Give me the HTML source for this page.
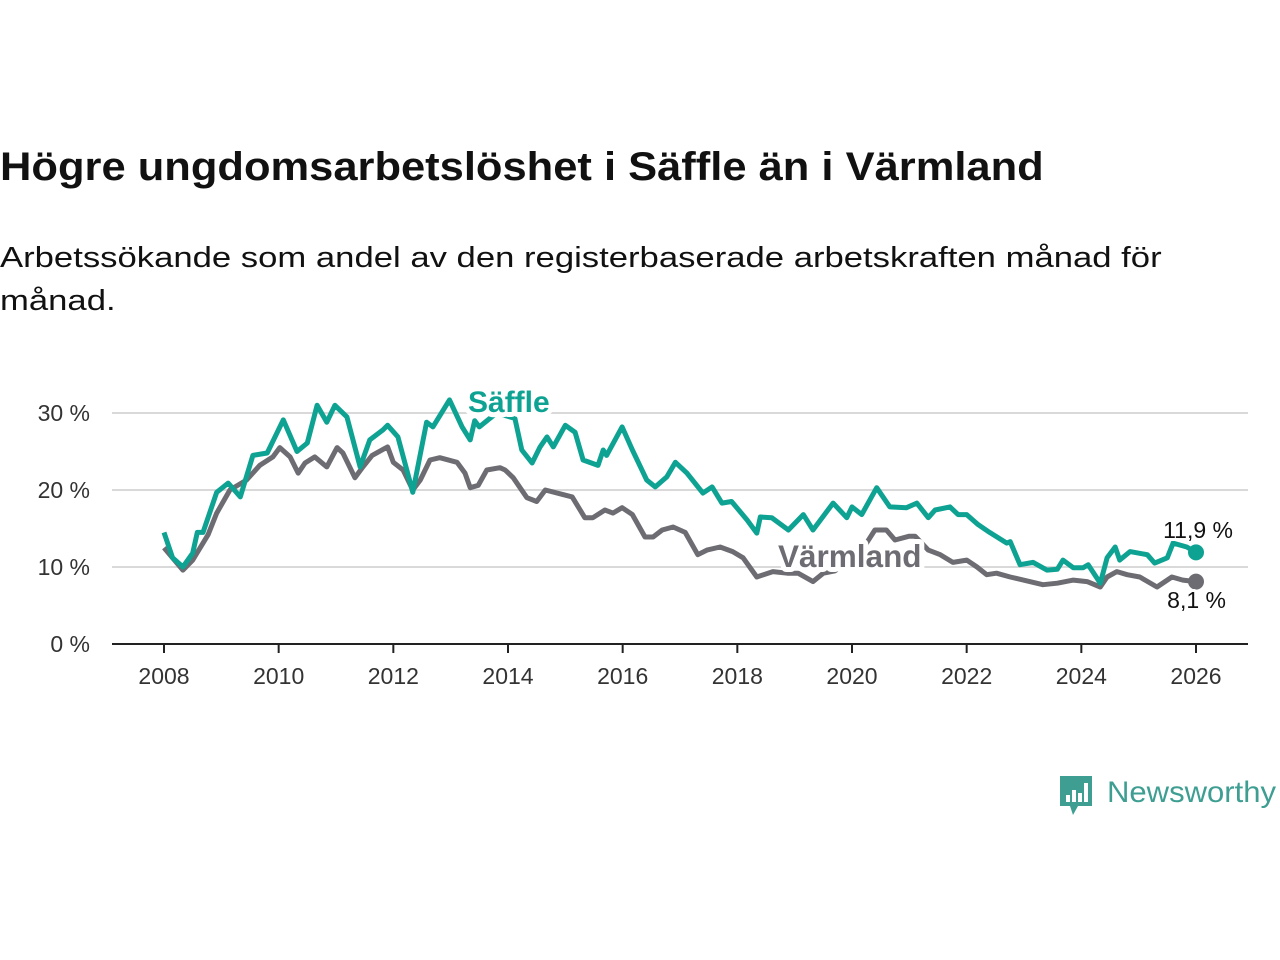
<!DOCTYPE html>
<html><head><meta charset="utf-8"><style>
body{margin:0;background:#fff;font-family:"Liberation Sans",sans-serif;}
#wrap{position:relative;width:1280px;height:960px;overflow:hidden;}
h1{position:absolute;left:0;top:145px;margin:0;font-size:40px;font-weight:bold;color:#111;white-space:nowrap;transform:scaleX(1.087);transform-origin:left top}
p.sub{position:absolute;left:0;top:237px;margin:0;font-size:29px;line-height:43px;color:#111;width:1000px;transform:scaleX(1.195);transform-origin:left top}
svg{position:absolute;left:0;top:0}
</style></head><body>
<div id="wrap">
<h1>Högre ungdomsarbetslöshet i Säffle än i Värmland</h1>
<p class="sub">Arbetssökande som andel av den registerbaserade arbetskraften månad för<br>månad.</p>
<svg id="chart" width="1280" height="960"></svg>
</div>
<script>
const saffleT=[2008.0,2008.15,2008.33,2008.5,2008.58,2008.68,2008.92,2009.12,2009.33,2009.55,2009.8,2010.08,2010.32,2010.5,2010.67,2010.84,2010.98,2011.19,2011.42,2011.59,2011.82,2011.9,2012.08,2012.34,2012.58,2012.69,2012.98,2013.2,2013.34,2013.42,2013.5,2013.8,2014.12,2014.24,2014.42,2014.56,2014.68,2014.79,2015.0,2015.17,2015.31,2015.57,2015.66,2015.72,2015.99,2016.17,2016.42,2016.57,2016.77,2016.92,2017.12,2017.4,2017.56,2017.73,2017.9,2018.17,2018.34,2018.4,2018.6,2018.89,2019.15,2019.32,2019.67,2019.91,2020.0,2020.17,2020.43,2020.66,2020.95,2021.13,2021.33,2021.45,2021.71,2021.85,2022.0,2022.2,2022.4,2022.7,2022.76,2022.93,2023.16,2023.4,2023.58,2023.68,2023.86,2024.03,2024.12,2024.33,2024.45,2024.59,2024.67,2024.85,2025.15,2025.28,2025.5,2025.6,2025.84,2026.0];
const saffleV=[14.5,11.2,10.0,11.8,14.5,14.5,19.7,20.9,19.1,24.5,24.8,29.1,25.0,26.1,31.0,28.8,31.0,29.5,23.0,26.5,27.8,28.4,26.9,19.7,28.8,28.2,31.7,28.2,26.5,29.0,28.2,30.0,29.3,25.2,23.5,25.6,26.9,25.6,28.4,27.5,23.9,23.2,25.2,24.5,28.2,25.2,21.3,20.4,21.7,23.6,22.2,19.6,20.4,18.3,18.5,16.1,14.4,16.5,16.4,14.8,16.8,14.8,18.3,16.4,17.8,16.8,20.3,17.8,17.7,18.3,16.4,17.4,17.8,16.8,16.8,15.5,14.5,13.1,13.3,10.3,10.6,9.6,9.7,10.9,9.9,9.9,10.3,7.9,11.2,12.6,10.9,12.0,11.6,10.5,11.2,13.1,12.6,11.9];
const varmT=[2008.0,2008.33,2008.5,2008.77,2008.92,2009.15,2009.44,2009.67,2009.9,2010.02,2010.2,2010.34,2010.46,2010.63,2010.84,2011.02,2011.12,2011.33,2011.47,2011.63,2011.9,2012.0,2012.17,2012.34,2012.47,2012.64,2012.81,2013.11,2013.25,2013.34,2013.48,2013.63,2013.86,2013.95,2014.09,2014.33,2014.5,2014.65,2014.96,2015.12,2015.34,2015.48,2015.69,2015.83,2015.99,2016.17,2016.39,2016.53,2016.69,2016.88,2017.09,2017.31,2017.47,2017.7,2017.92,2018.1,2018.34,2018.62,2018.87,2019.06,2019.32,2019.5,2019.7,2020.0,2020.2,2020.4,2020.6,2020.75,2021.0,2021.1,2021.33,2021.54,2021.76,2022.0,2022.18,2022.35,2022.52,2022.76,2023.1,2023.33,2023.58,2023.86,2024.1,2024.33,2024.45,2024.62,2024.8,2025.02,2025.32,2025.58,2025.77,2026.0];
const varmV=[12.5,9.6,10.9,14.2,17.0,20.0,21.3,23.2,24.3,25.5,24.3,22.2,23.5,24.3,23.0,25.5,24.8,21.6,23.0,24.5,25.6,23.6,22.6,20.0,21.3,23.9,24.2,23.6,22.2,20.3,20.6,22.6,22.9,22.6,21.6,19.0,18.5,20.0,19.4,19.1,16.4,16.4,17.4,17.0,17.7,16.8,13.9,13.9,14.8,15.2,14.5,11.6,12.2,12.6,12.0,11.2,8.7,9.4,9.2,9.2,8.1,9.2,9.5,11.0,12.5,14.8,14.8,13.5,14.0,14.0,12.2,11.6,10.6,10.9,10.0,9.0,9.2,8.7,8.1,7.7,7.9,8.3,8.1,7.4,8.7,9.4,9.0,8.7,7.4,8.7,8.3,8.1];
const yTicks=[0,10,20,30];
const xTicks=[2008,2010,2012,2014,2016,2018,2020,2022,2024,2026];
const svg=document.getElementById('chart');
const NS='http://www.w3.org/2000/svg';
const xS=y=>164+(y-2008)*(1196-164)/18;
const yS=v=>644-v*7.7;
function mk(tag,attrs,parent){const e=document.createElementNS(NS,tag);for(const k in attrs)e.setAttribute(k,attrs[k]);(parent||svg).appendChild(e);return e;}
yTicks.forEach(t=>{
  if(t>0){const g=mk('line',{x1:112,x2:1248,y1:yS(t),y2:yS(t),stroke:'#d9d9d9','stroke-width':2});
  
  }
  const l=mk('text',{x:90,y:yS(t)+8,'text-anchor':'end','font-size':23,fill:'#333'});
  l.textContent=t+' %';
  
  
});
const ax=mk('line',{x1:112,x2:1248,y1:644,y2:644,stroke:'#222','stroke-width':2});


xTicks.forEach(t=>{
  const tk=mk('line',{x1:xS(t),x2:xS(t),y1:644,y2:653,stroke:'#222','stroke-width':2});
  
  
  const l=mk('text',{x:xS(t),y:684,'text-anchor':'middle','font-size':23,fill:'#333'});
  l.textContent=t;
  
  
});
function line(T,V,col,name){
  const d=T.map((t,i)=>(i?'L':'M')+xS(t).toFixed(1)+','+yS(V[i]).toFixed(1)).join('');
  const p=mk('path',{d:d,fill:'none',stroke:col,'stroke-width':5,'stroke-linejoin':'round'});
  
  
  const n=T.length-1;
  const c=mk('circle',{cx:xS(T[n]),cy:yS(V[n]),r:8,fill:col});
  
  
}
line(varmT,varmV,'#6d6c72','varmland-line');
line(saffleT,saffleV,'#0ea293','saffle-line');
function lab(txt,x,y,col,name,size,bold,anchor){
  const t=mk('text',{x:x,y:y,'font-size':size,'font-weight':bold?'bold':'normal',fill:col,stroke:'#fff','stroke-width':bold?10:6,'paint-order':'stroke','text-anchor':anchor||'start','stroke-linejoin':'round'});
  t.textContent=txt;
  
  
}
lab('Säffle',468,412,'#0ea293','saffle-label',30,true);
lab('Värmland',778,567,'#6d6c72','varmland-label',31.5,true);
lab('11,9 %',1233,538,'#111','saffle-end-value',23,false,'end');
lab('8,1 %',1226,608,'#111','varmland-end-value',23,false,'end');
const lg=mk('g',{});


mk('path',{d:'M1060,776 h32 v30 h-14 l-5,9 l-3,-9 h-10 z',fill:'#3e9e92'},lg);
[[1066,795,4,7],[1072,790,4,12],[1078,793,4,9],[1084,783,4,19]].forEach(b=>mk('rect',{x:b[0],y:b[1],width:b[2],height:b[3],fill:'#fff'},lg));
const lt=mk('text',{x:1107,y:802,'font-size':30,fill:'#3e9e92',textLength:169,lengthAdjust:'spacingAndGlyphs'},lg);
lt.textContent='Newsworthy';
</script>
</body></html>
